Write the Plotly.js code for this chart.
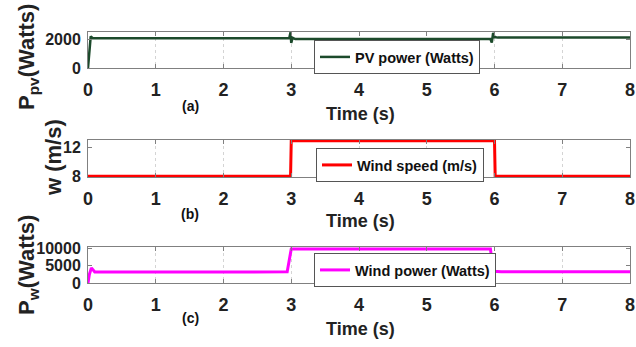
<!DOCTYPE html>
<html>
<head>
<meta charset="utf-8">
<script src="https://cdn.plot.ly/plotly-3.0.1.min.js"></script>
<style>html,body{margin:0;padding:0;background:#fff;}#chart{width:636px;height:347px;}</style>
</head>
<body>
<div id="chart"></div>
<script>
// ---- data ----
const timePV   = [0, 0.02, 0.04, 0.07, 1.0, 2.0, 2.97, 2.99, 3.0, 3.02, 3.06, 4.0, 5.0, 5.94, 5.96, 5.98, 6.0, 6.05, 7.0, 8.0];
const powerPV  = [0, 1500, 2200, 2070, 2060, 2060, 2060, 2480, 1750, 2100, 2010, 2010, 2010, 2010, 1760, 2430, 2150, 2110, 2110, 2110];

const timeWS    = [0, 2.99, 3.0, 6.0, 6.01, 8.0];
const windSpeed = [8, 8, 13, 13, 8, 8];

const timeWP    = [0, 0.02, 0.05, 0.1, 1.0, 2.0, 2.94, 3.0, 3.5, 4.5, 5.5, 5.94, 5.98, 6.1, 7.0, 8.0];
const windPower = [0, 2500, 4400, 3200, 3200, 3200, 3250, 9950, 9950, 9950, 9950, 9950, 3400, 3300, 3300, 3300];

const xTicks = [0, 1, 2, 3, 4, 5, 6, 7, 8];
const yTicksPV = [0, 2000];
const yTicksWS = [8, 12];
const yTicksWP = [0, 5000, 10000];
const yTickTextWP = ['0', '5000', '10000'];

const panelLabels = ['(a)', '(b)', '(c)'];
const xTitle = 'Time (s)';
const seriesNames = ['PV power (Watts)', 'Wind speed (m/s)', 'Wind power (Watts)'];

// ---- layout helpers ----
const H = 347, L = 88, R = 6, W = 636 - L - R;
const py = p => 1 - p / H;          // pixel y -> paper
const px = p => (p - L) / W;        // pixel x -> paper

const FONT = 'Liberation Sans, Arial, sans-serif';

function xaxis(anchor) {
  return {
    anchor: anchor, domain: [0, 1], range: [0, 8], tickvals: xTicks,
    ticks: 'inside', ticklen: 4, tickcolor: '#808080', mirror: 'ticks',
    showline: true, linecolor: '#808080', linewidth: 1,
    showgrid: true, gridcolor: '#d4d4d4', griddash: 'dot', gridwidth: 1,
    zeroline: false, ticklabelstandoff: 5,
    tickfont: {family: FONT, size: 18, color: '#222', weight: 'bold'}
  };
}
function yaxis(anchor, dom, range, vals, text) {
  const a = {
    anchor: anchor, domain: dom, range: range, tickvals: vals,
    ticks: 'inside', ticklen: 4, tickcolor: '#808080', mirror: 'ticks',
    showline: true, linecolor: '#808080', linewidth: 1,
    showgrid: false, zeroline: false, ticklabelstandoff: 3,
    tickfont: {family: FONT, size: 16, color: '#222', weight: 'bold'}
  };
  if (text) a.ticktext = text;
  return a;
}

const traces = [
  {x: timePV, y: powerPV, xaxis: 'x', yaxis: 'y', mode: 'lines', name: seriesNames[0],
   line: {color: '#1c4a2b', width: 2.5}, legend: 'legend'},
  {x: timeWS, y: windSpeed, xaxis: 'x2', yaxis: 'y2', mode: 'lines', name: seriesNames[1],
   line: {color: '#ff0000', width: 3}, legend: 'legend2'},
  {x: timeWP, y: windPower, xaxis: 'x3', yaxis: 'y3', mode: 'lines', name: seriesNames[2],
   line: {color: '#ff00ff', width: 3}, legend: 'legend3'}
];

function legendBox(xp, yp) {
  return {
    x: px(xp), y: py(yp), xanchor: 'left', yanchor: 'top',
    bgcolor: '#ffffff', bordercolor: '#555', borderwidth: 1,
    itemwidth: 30, tracegroupgap: 0,
    font: {family: FONT, size: 14.5, color: '#111', weight: 'bold'}
  };
}

const ann = [];
const rowY = [[106, 114], [214, 221], [318, 329]];
for (let i = 0; i < 3; i++) {
  ann.push({xref: 'paper', yref: 'paper', x: px(190), y: py(rowY[i][0]), text: panelLabels[i],
    showarrow: false, xanchor: 'center', yanchor: 'middle',
    font: {family: FONT, size: 14, color: '#111', weight: 'bold'}});
  ann.push({xref: 'paper', yref: 'paper', x: px(360), y: py(rowY[i][1]), text: xTitle,
    showarrow: false, xanchor: 'center', yanchor: 'middle',
    font: {family: FONT, size: 18, color: '#222', weight: 'bold'}});
}
ann.push({xref: 'paper', yref: 'paper', x: px(28), y: py(57), text: 'P<sub>pv</sub>(Watts)',
  textangle: -90, showarrow: false, xanchor: 'center', yanchor: 'middle',
  font: {family: FONT, size: 22, color: '#222', weight: 'bold'}});
ann.push({xref: 'paper', yref: 'paper', x: px(53), y: py(158), text: 'w (m/s)',
  textangle: -90, showarrow: false, xanchor: 'center', yanchor: 'middle',
  font: {family: FONT, size: 22, color: '#222', weight: 'bold'}});
ann.push({xref: 'paper', yref: 'paper', x: px(28), y: py(265), text: 'P<sub>w</sub>(Watts)',
  textangle: -90, showarrow: false, xanchor: 'center', yanchor: 'middle',
  font: {family: FONT, size: 22, color: '#222', weight: 'bold'}});

const layout = {
  width: 636, height: 347,
  margin: {l: L, r: R, t: 0, b: 0, pad: 0},
  paper_bgcolor: '#ffffff', plot_bgcolor: '#ffffff',
  showlegend: true,
  xaxis: xaxis('y'), yaxis: yaxis('x', [py(68), py(32)], [0, 2500], yTicksPV),
  xaxis2: xaxis('y2'), yaxis2: yaxis('x2', [py(177), py(140)], [7.9, 13.1], yTicksWS),
  xaxis3: xaxis('y3'), yaxis3: yaxis('x3', [py(283), py(247)], [0, 10500], yTicksWP, yTickTextWP),
  legend: legendBox(314, 40),
  legend2: legendBox(316, 148),
  legend3: legendBox(314, 253),
  annotations: ann
};

Plotly.newPlot('chart', traces, layout, {displayModeBar: false, staticPlot: true});
</script>
</body>
</html>
